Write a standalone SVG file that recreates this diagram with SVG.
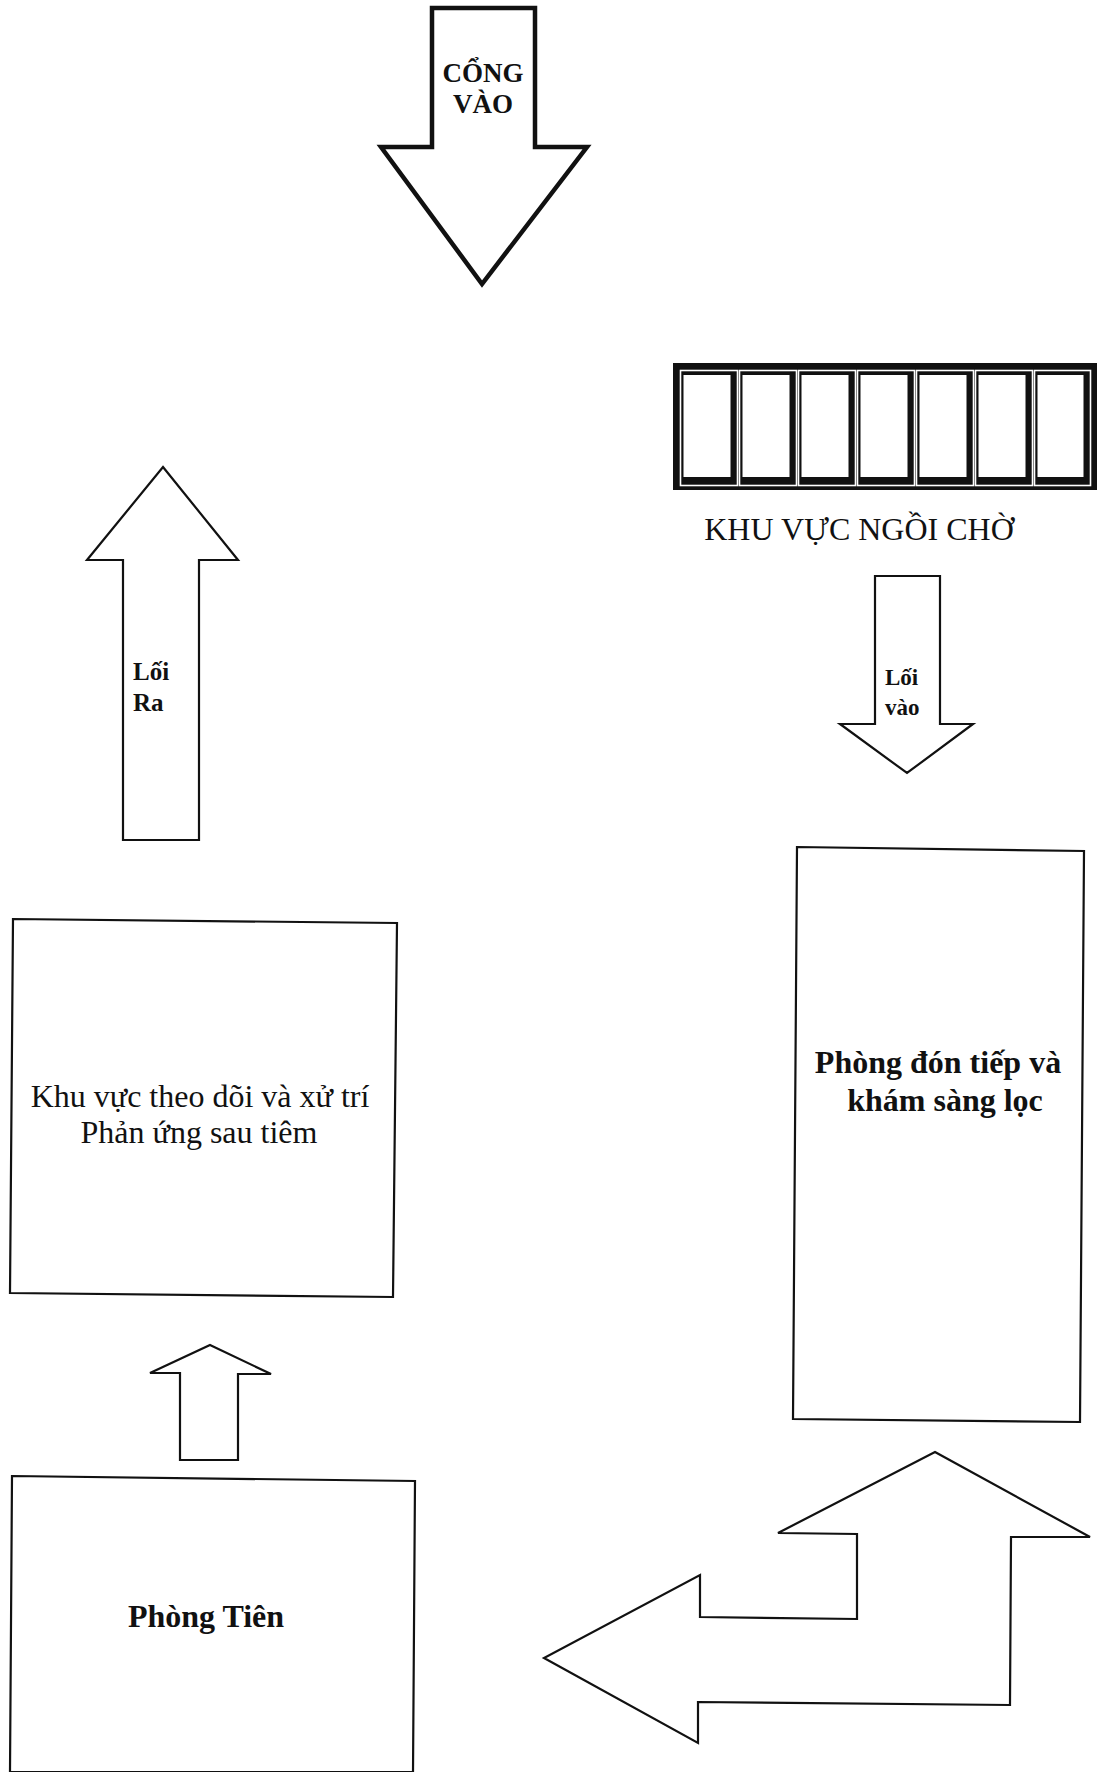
<svg xmlns="http://www.w3.org/2000/svg" width="1098" height="1772" viewBox="0 0 1098 1772">
  <style>
    .room { fill: #ffffff; stroke: #111111; stroke-width: 2.2; stroke-linejoin: miter; }
    .flow { fill: #ffffff; stroke: #111111; stroke-width: 2.2; stroke-linejoin: miter; }
    .gate { fill: #ffffff; stroke: #111111; stroke-width: 4.5; stroke-linejoin: miter; }
    .lbl { font-family: "Liberation Serif", "Times New Roman", serif; fill: #111111; }
    .bold { font-weight: bold; }
    .seat { fill: #ffffff; }
    .cell { fill: none; stroke: #ffffff; stroke-width: 1.6; }
  </style>
  <rect x="0" y="0" width="1098" height="1772" fill="#ffffff"/>

  <!-- block arrows showing the flow of people -->
  <g id="connectors">
    <g id="arrow-gate">
      <polygon class="gate" points="432,8 535,8 535,147 587,147 482,284 381,147 432,147"/>
      <text class="lbl bold" x="483" y="82" font-size="27" text-anchor="middle">CỔNG</text>
      <text class="lbl bold" x="483" y="113" font-size="27" text-anchor="middle">VÀO</text>
    </g>
    <g id="arrow-exit">
      <polygon class="flow" points="163,467 238,560 199,560 199,840 123,840 123,560 87,560"/>
      <text class="lbl bold" x="133" y="680" font-size="25">Lối</text>
      <text class="lbl bold" x="133" y="711" font-size="25">Ra</text>
    </g>
    <g id="arrow-entry">
      <polygon class="flow" points="875,576 940,576 940,724 973,724 907,773 840,724 875,724"/>
      <text class="lbl bold" x="885" y="685" font-size="23">Lối</text>
      <text class="lbl bold" x="885" y="715" font-size="23">vào</text>
    </g>
    <g id="arrow-to-monitor">
      <polygon class="flow" points="210,1345 271,1374 238,1374 238,1460 180,1460 180,1373 150,1373"/>
    </g>
    <g id="arrow-screening-to-injection">
      <polygon class="flow" points="935,1452 1090,1537 1011,1537 1010,1705 698,1702 698,1743 544,1658 700,1575 700,1617 857,1619 857,1534 778,1533"/>
    </g>
  </g>

  <!-- waiting area: a bench of seven chairs -->
  <g id="waiting-area">
    <rect x="673" y="363" width="424" height="127" fill="#111111"/>
    <rect x="680.5" y="370.5" width="57" height="115" class="cell"/>
    <rect x="739.5" y="370.5" width="57" height="115" class="cell"/>
    <rect x="798.5" y="370.5" width="57" height="115" class="cell"/>
    <rect x="857.5" y="370.5" width="57" height="115" class="cell"/>
    <rect x="916.5" y="370.5" width="57" height="115" class="cell"/>
    <rect x="975.5" y="370.5" width="57" height="115" class="cell"/>
    <rect x="1034.5" y="370.5" width="56" height="115" class="cell"/>
    <rect x="683.5" y="375" width="47" height="102" class="seat"/>
    <rect x="742.5" y="375" width="47" height="102" class="seat"/>
    <rect x="801.5" y="375" width="47" height="102" class="seat"/>
    <rect x="860.5" y="375" width="47" height="102" class="seat"/>
    <rect x="919.5" y="375" width="47" height="102" class="seat"/>
    <rect x="978.5" y="375" width="47" height="102" class="seat"/>
    <rect x="1037.5" y="375" width="46" height="102" class="seat"/>
    <text class="lbl" x="859" y="540" font-size="32" text-anchor="middle">KHU VỰC NGỒI CHỜ</text>
  </g>

  <!-- observation area -->
  <g id="monitoring-area">
    <polygon class="room" points="13,919 397,923 393,1297 10,1293"/>
    <text class="lbl" x="200" y="1107" font-size="32" text-anchor="middle">Khu vực theo dõi và xử trí</text>
    <text class="lbl" x="199" y="1143" font-size="32" text-anchor="middle">Phản ứng sau tiêm</text>
  </g>

  <!-- reception and screening room -->
  <g id="screening-room">
    <polygon class="room" points="797,847 1084,851 1080,1422 793,1419"/>
    <text class="lbl bold" x="938" y="1073" font-size="32" text-anchor="middle">Phòng đón tiếp và</text>
    <text class="lbl bold" x="945" y="1111" font-size="32" text-anchor="middle">khám sàng lọc</text>
  </g>

  <!-- injection room -->
  <g id="injection-room">
    <polygon class="room" points="12,1476 415,1481 413,1772 10,1772"/>
    <text class="lbl bold" x="206" y="1627" font-size="32" text-anchor="middle">Phòng Tiên</text>
  </g>
</svg>
